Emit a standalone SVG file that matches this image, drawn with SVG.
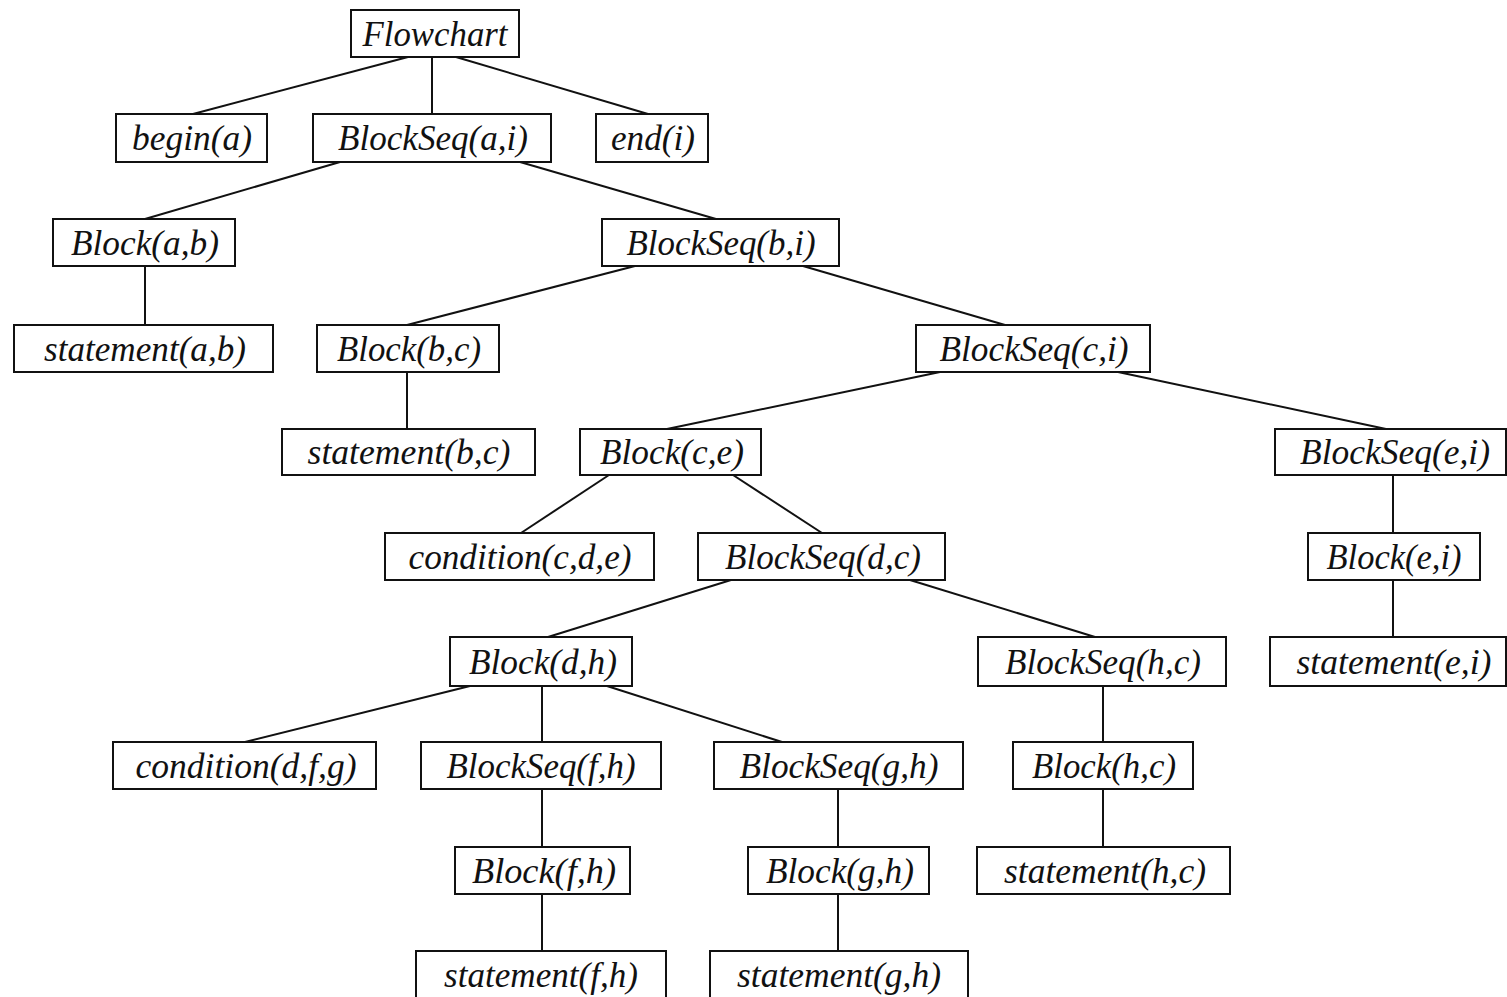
<svg xmlns="http://www.w3.org/2000/svg" width="1507" height="997" viewBox="0 0 1507 997">
  <style>
    .box rect { fill: #ffffff; stroke: #111111; stroke-width: 2; }
    .box text { font-family: "Liberation Serif", "Times New Roman", serif; font-style: italic; font-size: 36px; fill: #111111; text-anchor: middle; }
    .edges line { stroke: #111111; stroke-width: 2; }
  </style>
  <rect width="1507" height="997" fill="#ffffff"/>

  <!-- parse-tree edges -->
  <g id="edges" class="edges">
    <line x1="408" y1="57" x2="193" y2="114"/>
    <line x1="432" y1="57" x2="432" y2="114"/>
    <line x1="456" y1="57" x2="648" y2="114"/>
    <line x1="340" y1="162" x2="145" y2="219"/>
    <line x1="520" y1="162" x2="716" y2="219"/>
    <line x1="145" y1="266" x2="145" y2="325"/>
    <line x1="635" y1="266" x2="407" y2="325"/>
    <line x1="803" y1="266" x2="1005" y2="325"/>
    <line x1="407" y1="372" x2="407" y2="429"/>
    <line x1="940" y1="372" x2="667" y2="429"/>
    <line x1="1118" y1="372" x2="1386" y2="429"/>
    <line x1="609" y1="475" x2="521" y2="533"/>
    <line x1="733" y1="475" x2="822" y2="533"/>
    <line x1="1393" y1="475" x2="1393" y2="533"/>
    <line x1="731" y1="580" x2="548" y2="637"/>
    <line x1="910" y1="580" x2="1095" y2="637"/>
    <line x1="1393" y1="580" x2="1393" y2="637"/>
    <line x1="470" y1="686" x2="245" y2="742"/>
    <line x1="542" y1="686" x2="542" y2="742"/>
    <line x1="607" y1="686" x2="782" y2="742"/>
    <line x1="1103" y1="686" x2="1103" y2="742"/>
    <line x1="542" y1="789" x2="542" y2="847"/>
    <line x1="838" y1="789" x2="838" y2="847"/>
    <line x1="1103" y1="789" x2="1103" y2="847"/>
    <line x1="542" y1="894" x2="542" y2="951"/>
    <line x1="838" y1="894" x2="838" y2="951"/>
  </g>

  <!-- nodes -->
  <g id="n-flowchart" class="box"><rect x="351" y="10" width="168" height="47"/><text x="435" y="46" textLength="145" lengthAdjust="spacingAndGlyphs">Flowchart</text></g>

  <g id="n-begin-a" class="box"><rect x="116" y="114" width="151" height="48"/><text x="192" y="150" textLength="120" lengthAdjust="spacingAndGlyphs">begin(a)</text></g>
  <g id="n-blockseq-a-i" class="box"><rect x="313" y="114" width="238" height="48"/><text x="433" y="150" textLength="190" lengthAdjust="spacingAndGlyphs">BlockSeq(a,i)</text></g>
  <g id="n-end-i" class="box"><rect x="596" y="114" width="112" height="48"/><text x="653" y="150" textLength="84" lengthAdjust="spacingAndGlyphs">end(i)</text></g>

  <g id="n-block-a-b" class="box"><rect x="53" y="219" width="182" height="47"/><text x="145" y="255" textLength="148" lengthAdjust="spacingAndGlyphs">Block(a,b)</text></g>
  <g id="n-blockseq-b-i" class="box"><rect x="602" y="219" width="237" height="47"/><text x="721" y="255" textLength="189" lengthAdjust="spacingAndGlyphs">BlockSeq(b,i)</text></g>

  <g id="n-statement-a-b" class="box"><rect x="14" y="325" width="259" height="47"/><text x="145" y="361" textLength="202" lengthAdjust="spacingAndGlyphs">statement(a,b)</text></g>
  <g id="n-block-b-c" class="box"><rect x="317" y="325" width="182" height="47"/><text x="409" y="361" textLength="144" lengthAdjust="spacingAndGlyphs">Block(b,c)</text></g>
  <g id="n-blockseq-c-i" class="box"><rect x="916" y="325" width="234" height="47"/><text x="1034" y="361" textLength="189" lengthAdjust="spacingAndGlyphs">BlockSeq(c,i)</text></g>

  <g id="n-statement-b-c" class="box"><rect x="282" y="429" width="253" height="46"/><text x="409" y="464" textLength="203" lengthAdjust="spacingAndGlyphs">statement(b,c)</text></g>
  <g id="n-block-c-e" class="box"><rect x="580" y="429" width="181" height="46"/><text x="672" y="464" textLength="144" lengthAdjust="spacingAndGlyphs">Block(c,e)</text></g>
  <g id="n-blockseq-e-i" class="box"><rect x="1275" y="429" width="231" height="46"/><text x="1395" y="464" textLength="190" lengthAdjust="spacingAndGlyphs">BlockSeq(e,i)</text></g>

  <g id="n-condition-c-d-e" class="box"><rect x="385" y="533" width="269" height="47"/><text x="520" y="569" textLength="223" lengthAdjust="spacingAndGlyphs">condition(c,d,e)</text></g>
  <g id="n-blockseq-d-c" class="box"><rect x="698" y="533" width="247" height="47"/><text x="823" y="569" textLength="196" lengthAdjust="spacingAndGlyphs">BlockSeq(d,c)</text></g>
  <g id="n-block-e-i" class="box"><rect x="1308" y="533" width="172" height="47"/><text x="1394" y="569" textLength="135" lengthAdjust="spacingAndGlyphs">Block(e,i)</text></g>

  <g id="n-block-d-h" class="box"><rect x="450" y="637" width="182" height="49"/><text x="543" y="674" textLength="148" lengthAdjust="spacingAndGlyphs">Block(d,h)</text></g>
  <g id="n-blockseq-h-c" class="box"><rect x="978" y="637" width="248" height="49"/><text x="1103" y="674" textLength="196" lengthAdjust="spacingAndGlyphs">BlockSeq(h,c)</text></g>
  <g id="n-statement-e-i" class="box"><rect x="1270" y="637" width="236" height="49"/><text x="1394" y="674" textLength="195" lengthAdjust="spacingAndGlyphs">statement(e,i)</text></g>

  <g id="n-condition-d-f-g" class="box"><rect x="113" y="742" width="263" height="47"/><text x="246" y="778" textLength="221" lengthAdjust="spacingAndGlyphs">condition(d,f,g)</text></g>
  <g id="n-blockseq-f-h" class="box"><rect x="421" y="742" width="240" height="47"/><text x="541" y="778" textLength="189" lengthAdjust="spacingAndGlyphs">BlockSeq(f,h)</text></g>
  <g id="n-blockseq-g-h" class="box"><rect x="714" y="742" width="249" height="47"/><text x="839" y="778" textLength="199" lengthAdjust="spacingAndGlyphs">BlockSeq(g,h)</text></g>
  <g id="n-block-h-c" class="box"><rect x="1013" y="742" width="180" height="47"/><text x="1104" y="778" textLength="144" lengthAdjust="spacingAndGlyphs">Block(h,c)</text></g>

  <g id="n-block-f-h" class="box"><rect x="455" y="847" width="175" height="47"/><text x="544" y="883" textLength="144" lengthAdjust="spacingAndGlyphs">Block(f,h)</text></g>
  <g id="n-block-g-h" class="box"><rect x="748" y="847" width="181" height="47"/><text x="840" y="883" textLength="148" lengthAdjust="spacingAndGlyphs">Block(g,h)</text></g>
  <g id="n-statement-h-c" class="box"><rect x="977" y="847" width="253" height="47"/><text x="1105" y="883" textLength="202" lengthAdjust="spacingAndGlyphs">statement(h,c)</text></g>

  <g id="n-statement-f-h" class="box"><rect x="416" y="951" width="250" height="52"/><text x="541" y="987" textLength="194" lengthAdjust="spacingAndGlyphs">statement(f,h)</text></g>
  <g id="n-statement-g-h" class="box"><rect x="710" y="951" width="258" height="52"/><text x="839" y="987" textLength="204" lengthAdjust="spacingAndGlyphs">statement(g,h)</text></g>
</svg>
